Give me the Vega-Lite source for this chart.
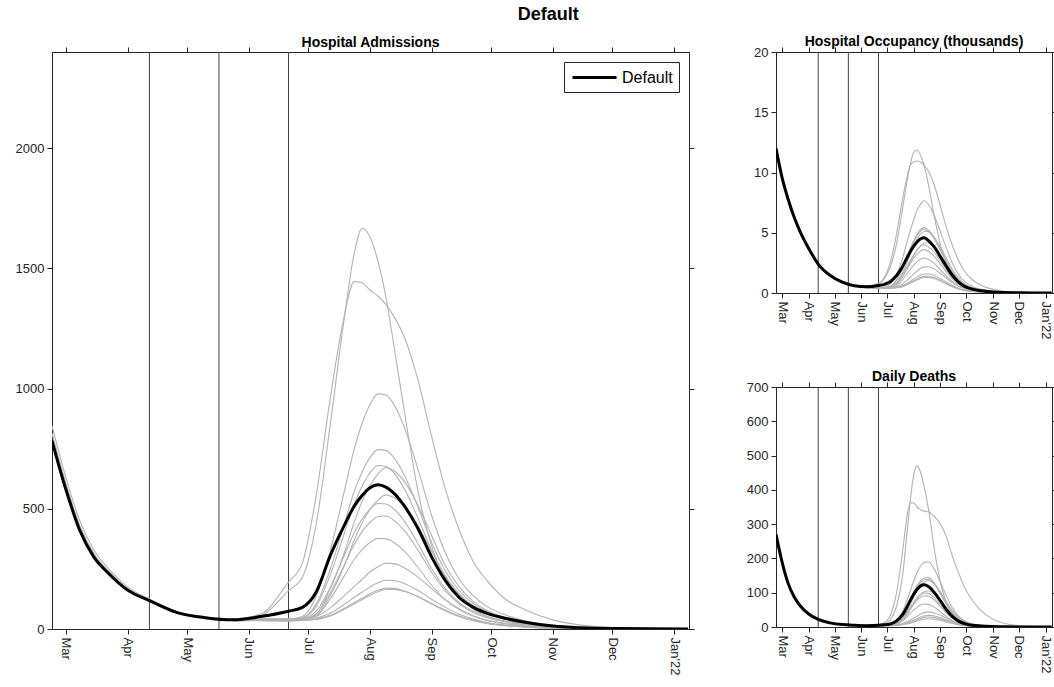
{
  "$schema": "https://vega.github.io/schema/vega-lite/v6.json",
  "title": {"text": "Default", "fontSize": 18, "fontWeight": "bold", "font": "Liberation Sans", "color": "#000000", "anchor": "middle", "offset": 11, "dx": 12},
  "padding": {"left": 14, "top": 5, "right": 0, "bottom": 0},
  "resolve": {"scale": {"color": "independent"}, "legend": {"color": "independent"}},
  "datasets": {
    "steps": [{"date": "2021-04-12"}, {"date": "2021-05-17"}, {"date": "2021-06-21"}],
    "adm": [
      {"date": "2021-02-22", "def": 783, "a": 845, "c": 815},
      {"date": "2021-03-01", "def": 580, "a": 630, "c": 605},
      {"date": "2021-03-08", "def": 410, "a": 450, "c": 430},
      {"date": "2021-03-15", "def": 300, "a": 330, "c": 315},
      {"date": "2021-03-22", "def": 235, "a": 255, "c": 245},
      {"date": "2021-04-01", "def": 162, "a": 175, "c": 168},
      {"date": "2021-04-12", "def": 118, "a": 125, "c": 121},
      {"date": "2021-04-26", "def": 68, "a": 72, "c": 70},
      {"date": "2021-05-10", "def": 47, "a": 50, "c": 48},
      {"date": "2021-05-24", "def": 38, "a": 40, "b": 40, "c": 39, "d": 38, "e": 38, "f": 37, "g": 37, "h": 37, "i": 36, "j": 36, "k": 36, "l": 35, "m": 35, "n": 34},
      {"date": "2021-06-07", "def": 52, "a": 55, "b": 62, "c": 42, "d": 41, "e": 40, "f": 39, "g": 39, "h": 39, "i": 38, "j": 38, "k": 37, "l": 36, "m": 36, "n": 35},
      {"date": "2021-06-21", "def": 74, "a": 160, "b": 195, "c": 42, "d": 41, "e": 40, "f": 38, "g": 38, "h": 38, "i": 37, "j": 36, "k": 36, "l": 35, "m": 34, "n": 33},
      {"date": "2021-06-28", "def": 90, "a": 215, "b": 275, "c": 52, "d": 47, "e": 46, "f": 42, "g": 41, "h": 43, "i": 41, "j": 40, "k": 40, "l": 38, "m": 37, "n": 36},
      {"date": "2021-07-05", "def": 155, "a": 440, "b": 560, "c": 138, "d": 105, "e": 96, "f": 62, "g": 56, "h": 74, "i": 64, "j": 55, "k": 52, "l": 46, "m": 42, "n": 40},
      {"date": "2021-07-12", "def": 305, "a": 850, "b": 960, "c": 324, "d": 248, "e": 225, "f": 168, "g": 140, "h": 173, "i": 150, "j": 125, "k": 88, "l": 66, "m": 57, "n": 54},
      {"date": "2021-07-19", "def": 430, "a": 1290, "b": 1300, "c": 570, "d": 435, "e": 396, "f": 315, "g": 262, "h": 305, "i": 265, "j": 220, "k": 138, "l": 102, "m": 86, "n": 82},
      {"date": "2021-07-24", "def": 510, "a": 1560, "b": 1445, "c": 747, "d": 570, "e": 519, "f": 443, "g": 368, "h": 399, "i": 350, "j": 288, "k": 176, "l": 131, "m": 109, "n": 104},
      {"date": "2021-07-28", "def": 555, "a": 1667, "b": 1440, "c": 855, "d": 653, "e": 594, "f": 530, "g": 441, "h": 457, "i": 405, "j": 330, "k": 206, "l": 153, "m": 128, "n": 122},
      {"date": "2021-08-01", "def": 588, "a": 1630, "b": 1410, "c": 934, "d": 713, "e": 649, "f": 597, "g": 497, "h": 499, "i": 444, "j": 360, "k": 237, "l": 175, "m": 147, "n": 140},
      {"date": "2021-08-05", "def": 600, "a": 1530, "b": 1385, "c": 978, "d": 746, "e": 680, "f": 644, "g": 536, "h": 522, "i": 467, "j": 377, "k": 259, "l": 192, "m": 161, "n": 155},
      {"date": "2021-08-09", "def": 590, "a": 1380, "b": 1350, "c": 973, "d": 743, "e": 676, "f": 671, "g": 558, "h": 520, "i": 470, "j": 375, "k": 274, "l": 203, "m": 170, "n": 164},
      {"date": "2021-08-13", "def": 565, "a": 1180, "b": 1300, "c": 934, "d": 713, "e": 649, "f": 658, "g": 547, "h": 499, "i": 452, "j": 360, "k": 272, "l": 202, "m": 169, "n": 165},
      {"date": "2021-08-18", "def": 515, "a": 920, "b": 1220, "c": 845, "d": 645, "e": 587, "f": 617, "g": 513, "h": 452, "i": 412, "j": 326, "k": 256, "l": 190, "m": 159, "n": 157},
      {"date": "2021-08-25", "def": 420, "a": 580, "b": 1040, "c": 668, "d": 510, "e": 464, "f": 517, "g": 430, "h": 357, "i": 330, "j": 258, "k": 217, "l": 161, "m": 135, "n": 135},
      {"date": "2021-09-01", "def": 300, "a": 345, "b": 800, "c": 472, "d": 360, "e": 328, "f": 389, "g": 324, "h": 252, "i": 236, "j": 182, "k": 168, "l": 124, "m": 104, "n": 106},
      {"date": "2021-09-08", "def": 200, "a": 210, "b": 580, "c": 315, "d": 240, "e": 219, "f": 262, "g": 218, "h": 168, "i": 158, "j": 121, "k": 121, "l": 90, "m": 75, "n": 78},
      {"date": "2021-09-15", "def": 130, "a": 130, "b": 410, "c": 206, "d": 158, "e": 143, "f": 174, "g": 145, "h": 110, "i": 104, "j": 80, "k": 83, "l": 61, "m": 51, "n": 54},
      {"date": "2021-09-22", "def": 90, "a": 82, "b": 280, "c": 138, "d": 105, "e": 96, "f": 114, "g": 95, "h": 74, "i": 69, "j": 53, "k": 55, "l": 41, "m": 34, "n": 37},
      {"date": "2021-09-29", "def": 65, "a": 53, "b": 200, "c": 93, "d": 71, "e": 65, "f": 77, "g": 64, "h": 50, "i": 47, "j": 36, "k": 36, "l": 27, "m": 22, "n": 25},
      {"date": "2021-10-08", "def": 45, "a": 33, "b": 125, "c": 59, "d": 45, "e": 41, "f": 48, "g": 40, "h": 32, "i": 30, "j": 23, "k": 22, "l": 16, "m": 14, "n": 15},
      {"date": "2021-10-18", "def": 28, "a": 19, "b": 80, "c": 34, "d": 26, "e": 24, "f": 28, "g": 23, "h": 18, "i": 17, "j": 13, "k": 13, "l": 10, "m": 8, "n": 9},
      {"date": "2021-11-01", "def": 12, "a": 8, "b": 38, "c": 15, "d": 11, "e": 10, "f": 13, "g": 11, "h": 8, "i": 8, "j": 6, "k": 6, "l": 4, "m": 3, "n": 4},
      {"date": "2021-11-15", "def": 5, "a": 3, "b": 16, "c": 6, "d": 5, "e": 4, "f": 6, "g": 5, "h": 3, "i": 3, "j": 2, "k": 2, "l": 2, "m": 1, "n": 1.5},
      {"date": "2021-12-01", "def": 2, "a": 1, "b": 6, "c": 2, "d": 2, "e": 1.5, "f": 2, "g": 2, "h": 1, "i": 1, "j": 1, "k": 1, "l": 1, "m": 0.5, "n": 0.5},
      {"date": "2021-12-20", "def": 1, "a": 0.5, "b": 2, "c": 1, "d": 0.8, "e": 0.7, "f": 1, "g": 0.8, "h": 0.5, "i": 0.5, "j": 0.5, "k": 0.5, "l": 0.4, "m": 0.3, "n": 0.3},
      {"date": "2022-01-08", "def": 0.5, "a": 0.3, "b": 1, "c": 0.4, "d": 0.3, "e": 0.3, "f": 0.4, "g": 0.3, "h": 0.3, "i": 0.3, "j": 0.2, "k": 0.2, "l": 0.2, "m": 0.1, "n": 0.1}
    ],
    "occ": [
      {"date": "2021-02-22", "def": 12.0},
      {"date": "2021-03-01", "def": 9.6},
      {"date": "2021-03-08", "def": 7.8},
      {"date": "2021-03-15", "def": 6.3},
      {"date": "2021-03-22", "def": 5.1},
      {"date": "2021-04-01", "def": 3.7},
      {"date": "2021-04-12", "def": 2.4},
      {"date": "2021-04-26", "def": 1.45},
      {"date": "2021-05-10", "def": 0.9},
      {"date": "2021-05-24", "def": 0.6, "a": 0.62, "b": 0.62, "c": 0.6, "d": 0.6, "e": 0.6, "f": 0.59, "g": 0.59, "h": 0.59, "i": 0.58, "j": 0.58, "k": 0.58, "l": 0.57, "m": 0.57, "n": 0.56},
      {"date": "2021-06-07", "def": 0.52, "a": 0.55, "b": 0.58, "c": 0.48, "d": 0.48, "e": 0.47, "f": 0.47, "g": 0.47, "h": 0.46, "i": 0.46, "j": 0.46, "k": 0.45, "l": 0.45, "m": 0.45, "n": 0.45},
      {"date": "2021-06-21", "def": 0.62, "a": 0.75, "b": 0.8, "c": 0.45, "d": 0.45, "e": 0.44, "f": 0.43, "g": 0.43, "h": 0.43, "i": 0.42, "j": 0.42, "k": 0.41, "l": 0.4, "m": 0.39, "n": 0.38},
      {"date": "2021-06-28", "def": 0.72, "a": 1.2, "b": 1.3, "c": 0.48, "d": 0.47, "e": 0.46, "f": 0.45, "g": 0.44, "h": 0.45, "i": 0.44, "j": 0.43, "k": 0.42, "l": 0.41, "m": 0.4, "n": 0.39},
      {"date": "2021-07-05", "def": 0.95, "a": 2.2, "b": 2.6, "c": 0.77, "d": 0.55, "e": 0.54, "f": 0.5, "g": 0.48, "h": 0.5, "i": 0.48, "j": 0.46, "k": 0.44, "l": 0.42, "m": 0.41, "n": 0.4},
      {"date": "2021-07-12", "def": 1.45, "a": 4.1, "b": 4.9, "c": 1.53, "d": 1.09, "e": 1.06, "f": 0.85, "g": 0.7, "h": 0.8, "i": 0.72, "j": 0.6, "k": 0.52, "l": 0.47, "m": 0.45, "n": 0.43},
      {"date": "2021-07-19", "def": 2.2, "a": 7.0, "b": 7.8, "c": 2.9, "d": 2.07, "e": 2.01, "f": 1.7, "g": 1.35, "h": 1.52, "i": 1.37, "j": 1.1, "k": 0.75, "l": 0.6, "m": 0.56, "n": 0.53},
      {"date": "2021-07-24", "def": 2.9, "a": 9.2, "b": 9.6, "c": 4.2, "d": 3.0, "e": 2.92, "f": 2.5, "g": 2.0, "h": 2.2, "i": 1.98, "j": 1.6, "k": 1.05, "l": 0.8, "m": 0.72, "n": 0.67},
      {"date": "2021-07-28", "def": 3.45, "a": 10.7, "b": 10.6, "c": 5.2, "d": 3.7, "e": 3.6, "f": 3.2, "g": 2.55, "h": 2.72, "i": 2.45, "j": 1.97, "k": 1.3, "l": 0.97, "m": 0.86, "n": 0.8},
      {"date": "2021-08-01", "def": 3.9, "a": 11.7, "b": 10.9, "c": 6.1, "d": 4.36, "e": 4.24, "f": 3.9, "g": 3.1, "h": 3.2, "i": 2.88, "j": 2.32, "k": 1.6, "l": 1.16, "m": 1.02, "n": 0.95},
      {"date": "2021-08-05", "def": 4.25, "a": 11.85, "b": 10.95, "c": 6.9, "d": 4.9, "e": 4.77, "f": 4.5, "g": 3.6, "h": 3.6, "i": 3.24, "j": 2.61, "k": 1.85, "l": 1.34, "m": 1.17, "n": 1.09},
      {"date": "2021-08-09", "def": 4.5, "a": 11.4, "b": 10.85, "c": 7.4, "d": 5.29, "e": 5.14, "f": 4.9, "g": 3.95, "h": 3.88, "i": 3.49, "j": 2.81, "k": 2.05, "l": 1.49, "m": 1.3, "n": 1.21},
      {"date": "2021-08-13", "def": 4.58, "a": 10.6, "b": 10.6, "c": 7.65, "d": 5.45, "e": 5.3, "f": 5.1, "g": 4.15, "h": 4.0, "i": 3.6, "j": 2.9, "k": 2.17, "l": 1.58, "m": 1.38, "n": 1.28},
      {"date": "2021-08-18", "def": 4.35, "a": 9.0, "b": 10.1, "c": 7.35, "d": 5.23, "e": 5.09, "f": 5.1, "g": 4.15, "h": 3.84, "i": 3.46, "j": 2.78, "k": 2.18, "l": 1.59, "m": 1.39, "n": 1.3},
      {"date": "2021-08-25", "def": 3.8, "a": 6.3, "b": 8.9, "c": 6.4, "d": 4.58, "e": 4.45, "f": 4.6, "g": 3.75, "h": 3.36, "i": 3.02, "j": 2.44, "k": 1.98, "l": 1.45, "m": 1.27, "n": 1.2},
      {"date": "2021-09-01", "def": 3.0, "a": 4.0, "b": 7.2, "c": 5.05, "d": 3.6, "e": 3.5, "f": 3.8, "g": 3.1, "h": 2.64, "i": 2.38, "j": 1.91, "k": 1.62, "l": 1.19, "m": 1.04, "n": 0.99},
      {"date": "2021-09-08", "def": 2.2, "a": 2.4, "b": 5.4, "c": 3.7, "d": 2.62, "e": 2.54, "f": 2.85, "g": 2.3, "h": 1.92, "i": 1.73, "j": 1.39, "k": 1.22, "l": 0.9, "m": 0.78, "n": 0.75},
      {"date": "2021-09-15", "def": 1.45, "a": 1.45, "b": 3.9, "c": 2.45, "d": 1.74, "e": 1.7, "f": 1.95, "g": 1.58, "h": 1.28, "i": 1.15, "j": 0.93, "k": 0.85, "l": 0.62, "m": 0.54, "n": 0.52},
      {"date": "2021-09-22", "def": 0.9, "a": 0.9, "b": 2.7, "c": 1.53, "d": 1.09, "e": 1.06, "f": 1.25, "g": 1.0, "h": 0.8, "i": 0.72, "j": 0.58, "k": 0.55, "l": 0.4, "m": 0.35, "n": 0.34},
      {"date": "2021-09-29", "def": 0.55, "a": 0.56, "b": 1.8, "c": 0.96, "d": 0.68, "e": 0.66, "f": 0.78, "g": 0.63, "h": 0.5, "i": 0.45, "j": 0.36, "k": 0.35, "l": 0.25, "m": 0.22, "n": 0.21},
      {"date": "2021-10-08", "def": 0.32, "a": 0.33, "b": 1.1, "c": 0.54, "d": 0.38, "e": 0.37, "f": 0.45, "g": 0.36, "h": 0.28, "i": 0.25, "j": 0.2, "k": 0.2, "l": 0.14, "m": 0.12, "n": 0.12},
      {"date": "2021-10-18", "def": 0.18, "a": 0.2, "b": 0.65, "c": 0.31, "d": 0.22, "e": 0.21, "f": 0.26, "g": 0.21, "h": 0.16, "i": 0.14, "j": 0.12, "k": 0.11, "l": 0.08, "m": 0.07, "n": 0.07},
      {"date": "2021-11-01", "def": 0.08, "a": 0.09, "b": 0.3, "c": 0.13, "d": 0.09, "e": 0.09, "f": 0.11, "g": 0.09, "h": 0.07, "i": 0.06, "j": 0.05, "k": 0.05, "l": 0.035, "m": 0.03, "n": 0.03},
      {"date": "2021-11-15", "def": 0.04, "a": 0.04, "b": 0.13, "c": 0.06, "d": 0.04, "e": 0.04, "f": 0.05, "g": 0.04, "h": 0.03, "i": 0.03, "j": 0.02, "k": 0.02, "l": 0.015, "m": 0.013, "n": 0.013},
      {"date": "2021-12-01", "def": 0.02, "a": 0.02, "b": 0.05, "c": 0.02, "d": 0.02, "e": 0.02, "f": 0.02, "g": 0.02, "h": 0.01, "i": 0.01, "j": 0.01, "k": 0.01, "l": 0.01, "m": 0.01, "n": 0.01},
      {"date": "2021-12-20", "def": 0.01, "a": 0.01, "b": 0.02, "c": 0.01, "d": 0.01, "e": 0.01, "f": 0.01, "g": 0.01, "h": 0.01, "i": 0.01, "j": 0.01, "k": 0.01, "l": 0.01, "m": 0.01, "n": 0.01},
      {"date": "2022-01-08", "def": 0.01, "a": 0.01, "b": 0.01, "c": 0.01, "d": 0.01, "e": 0.01, "f": 0.01, "g": 0.01, "h": 0.01, "i": 0.01, "j": 0.01, "k": 0.01, "l": 0.01, "m": 0.01, "n": 0.01}
    ],
    "dth": [
      {"date": "2021-02-22", "def": 270},
      {"date": "2021-03-01", "def": 190},
      {"date": "2021-03-08", "def": 128},
      {"date": "2021-03-15", "def": 88},
      {"date": "2021-03-22", "def": 62},
      {"date": "2021-04-01", "def": 38},
      {"date": "2021-04-12", "def": 22},
      {"date": "2021-04-26", "def": 12},
      {"date": "2021-05-10", "def": 7},
      {"date": "2021-05-24", "def": 5, "a": 5, "b": 5, "c": 5, "d": 5, "e": 5, "f": 5, "g": 5, "h": 5, "i": 5, "j": 5, "k": 5, "l": 5, "m": 5, "n": 5},
      {"date": "2021-06-07", "def": 4, "a": 4.5, "b": 5, "c": 4, "d": 4, "e": 4, "f": 4, "g": 4, "h": 4, "i": 4, "j": 4, "k": 4, "l": 4, "m": 4, "n": 4},
      {"date": "2021-06-21", "def": 5, "a": 6, "b": 7, "c": 4, "d": 4, "e": 4, "f": 4, "g": 4, "h": 4, "i": 4, "j": 4, "k": 4, "l": 4, "m": 3.8, "n": 3.7},
      {"date": "2021-06-28", "def": 6.5, "a": 10, "b": 13, "c": 5, "d": 4.5, "e": 4.4, "f": 4.3, "g": 4.2, "h": 4.3, "i": 4.2, "j": 4.1, "k": 4, "l": 4, "m": 3.9, "n": 3.8},
      {"date": "2021-07-05", "def": 9, "a": 22, "b": 35, "c": 8, "d": 6.5, "e": 6.3, "f": 5.5, "g": 5, "h": 6, "i": 5.6, "j": 5, "k": 4.5, "l": 4.3, "m": 4.1, "n": 4},
      {"date": "2021-07-12", "def": 18, "a": 60, "b": 100, "c": 20, "d": 15, "e": 14.5, "f": 11, "g": 9, "h": 12, "i": 11, "j": 8.5, "k": 6, "l": 5.3, "m": 5, "n": 4.7},
      {"date": "2021-07-19", "def": 36, "a": 150, "b": 220, "c": 45, "d": 34, "e": 33, "f": 26, "g": 20, "h": 26, "i": 24, "j": 18, "k": 10, "l": 8, "m": 7.2, "n": 6.5},
      {"date": "2021-07-24", "def": 58, "a": 270, "b": 320, "c": 78, "d": 59, "e": 57, "f": 47, "g": 36, "h": 43, "i": 40, "j": 29, "k": 15, "l": 11.5, "m": 10, "n": 8.6},
      {"date": "2021-07-28", "def": 78, "a": 370, "b": 362, "c": 105, "d": 80, "e": 77, "f": 66, "g": 51, "h": 58, "i": 54, "j": 40, "k": 20, "l": 15, "m": 13, "n": 11},
      {"date": "2021-08-01", "def": 96, "a": 445, "b": 362, "c": 135, "d": 103, "e": 99, "f": 88, "g": 68, "h": 73, "i": 67, "j": 50, "k": 26, "l": 19.5, "m": 17, "n": 14},
      {"date": "2021-08-05", "def": 110, "a": 470, "b": 350, "c": 160, "d": 122, "e": 118, "f": 107, "g": 83, "h": 86, "i": 79, "j": 58, "k": 32, "l": 24, "m": 21, "n": 17.5},
      {"date": "2021-08-09", "def": 120, "a": 450, "b": 342, "c": 178, "d": 135, "e": 130, "f": 122, "g": 95, "h": 95, "i": 87, "j": 64, "k": 38, "l": 29, "m": 25, "n": 20.5},
      {"date": "2021-08-13", "def": 123, "a": 410, "b": 338, "c": 188, "d": 143, "e": 138, "f": 131, "g": 102, "h": 99, "i": 91, "j": 67, "k": 42, "l": 32, "m": 27.5, "n": 22.7},
      {"date": "2021-08-18", "def": 118, "a": 345, "b": 336, "c": 190, "d": 144, "e": 139, "f": 135, "g": 105, "h": 98, "i": 90, "j": 66, "k": 44, "l": 34, "m": 29, "n": 24},
      {"date": "2021-08-25", "def": 100, "a": 225, "b": 322, "c": 168, "d": 128, "e": 124, "f": 126, "g": 98, "h": 85, "i": 78, "j": 58, "k": 41, "l": 32, "m": 27.5, "n": 23},
      {"date": "2021-09-01", "def": 76, "a": 130, "b": 300, "c": 130, "d": 99, "e": 96, "f": 102, "g": 80, "h": 65, "i": 60, "j": 44, "k": 34, "l": 27, "m": 23, "n": 19.5},
      {"date": "2021-09-08", "def": 50, "a": 70, "b": 262, "c": 90, "d": 68, "e": 66, "f": 73, "g": 57, "h": 44, "i": 40, "j": 30, "k": 25, "l": 20, "m": 17, "n": 14.5},
      {"date": "2021-09-15", "def": 30, "a": 38, "b": 205, "c": 55, "d": 42, "e": 40, "f": 47, "g": 37, "h": 27, "i": 25, "j": 18, "k": 17, "l": 13.5, "m": 11.5, "n": 10},
      {"date": "2021-09-22", "def": 17, "a": 20, "b": 158, "c": 32, "d": 24, "e": 23, "f": 28, "g": 22, "h": 15, "i": 14, "j": 10, "k": 10.5, "l": 8.5, "m": 7.2, "n": 6.3},
      {"date": "2021-09-29", "def": 10, "a": 11, "b": 115, "c": 18, "d": 14, "e": 13.5, "f": 16, "g": 12.5, "h": 8.5, "i": 8, "j": 6, "k": 6.3, "l": 5, "m": 4.3, "n": 3.8},
      {"date": "2021-10-08", "def": 5, "a": 6, "b": 78, "c": 9, "d": 7, "e": 6.8, "f": 8, "g": 6.3, "h": 4.3, "i": 4, "j": 3, "k": 3.3, "l": 2.6, "m": 2.2, "n": 2},
      {"date": "2021-10-18", "def": 3, "a": 3, "b": 48, "c": 5, "d": 4, "e": 3.9, "f": 4.5, "g": 3.5, "h": 2.4, "i": 2.2, "j": 1.7, "k": 1.8, "l": 1.4, "m": 1.2, "n": 1.1},
      {"date": "2021-11-01", "def": 1.5, "a": 1.2, "b": 23, "c": 2, "d": 1.5, "e": 1.5, "f": 1.8, "g": 1.4, "h": 1, "i": 1, "j": 0.8, "k": 0.8, "l": 0.6, "m": 0.5, "n": 0.5},
      {"date": "2021-11-15", "def": 0.7, "a": 0.5, "b": 10, "c": 1, "d": 0.7, "e": 0.7, "f": 0.8, "g": 0.6, "h": 0.5, "i": 0.5, "j": 0.4, "k": 0.4, "l": 0.3, "m": 0.25, "n": 0.2},
      {"date": "2021-12-01", "def": 0.3, "a": 0.2, "b": 4, "c": 0.4, "d": 0.3, "e": 0.3, "f": 0.4, "g": 0.3, "h": 0.2, "i": 0.2, "j": 0.2, "k": 0.2, "l": 0.1, "m": 0.1, "n": 0.1},
      {"date": "2021-12-20", "def": 0.1, "a": 0.1, "b": 1.5, "c": 0.1, "d": 0.1, "e": 0.1, "f": 0.1, "g": 0.1, "h": 0.1, "i": 0.1, "j": 0.1, "k": 0.1, "l": 0.1, "m": 0.1, "n": 0.1},
      {"date": "2022-01-08", "def": 0.1, "a": 0.1, "b": 0.5, "c": 0.1, "d": 0.1, "e": 0.1, "f": 0.1, "g": 0.1, "h": 0.1, "i": 0.1, "j": 0.1, "k": 0.1, "l": 0.1, "m": 0.1, "n": 0.1}
    ]
  },
  "spacing": 50,
  "hconcat": [
    {
      "width": 637,
      "height": 577,
      "title": {"text": "Hospital Admissions", "fontSize": 14, "fontWeight": "bold", "offset": -3},
      "resolve": {"axis": {"x": "independent", "y": "independent"}},
      "layer": [
        {
          "data": {"name": "steps"},
          "mark": {"type": "rule", "color": "#404040", "strokeWidth": 1},
          "encoding": {
            "x": {"field": "date", "type": "temporal", "scale": {"domain": [{"year": 2021, "month": 2, "date": 22}, {"year": 2022, "month": 1, "date": 8, "hours": 12}]}, "axis": null}
          }
        },
        {
          "data": {"name": "adm"},
          "transform": [{"fold": ["a", "b", "c", "d", "e", "f", "g", "h", "i", "j", "k", "l", "m", "n"], "as": ["s", "v"]}],
          "mark": {"type": "line", "interpolate": "monotone", "color": "#b3b3b3", "strokeWidth": 1.1, "clip": true},
          "encoding": {
            "x": {"field": "date", "type": "temporal", "scale": {"domain": [{"year": 2021, "month": 2, "date": 22}, {"year": 2022, "month": 1, "date": 8, "hours": 12}]},
              "axis": {"orient": "bottom", "title": null, "values": [{"year": 2021, "month": 3, "date": 1}, {"year": 2021, "month": 4, "date": 1}, {"year": 2021, "month": 5, "date": 1}, {"year": 2021, "month": 6, "date": 1}, {"year": 2021, "month": 7, "date": 1}, {"year": 2021, "month": 8, "date": 1}, {"year": 2021, "month": 9, "date": 1}, {"year": 2021, "month": 10, "date": 1}, {"year": 2021, "month": 11, "date": 1}, {"year": 2021, "month": 12, "date": 1}, {"year": 2022, "month": 1, "date": 1}],
                "labelExpr": "month(datum.value) == 0 ? \"Jan'22\" : timeFormat(datum.value, '%b')", "labelAngle": 90, "labelAlign": "left", "labelBaseline": "middle"}},
            "y": {"field": "v", "type": "quantitative", "scale": {"domain": [0, 2400]}, "axis": {"title": null, "format": "d", "values": [0, 500, 1000, 1500, 2000]}},
            "detail": {"field": "s"}
          }
        },
        {
          "data": {"name": "adm"},
          "mark": {"type": "line", "interpolate": "monotone", "strokeWidth": 3, "clip": true},
          "encoding": {
            "x": {"field": "date", "type": "temporal", "scale": {"domain": [{"year": 2021, "month": 2, "date": 22}, {"year": 2022, "month": 1, "date": 8, "hours": 12}]},
              "axis": {"orient": "top", "title": null, "labels": false, "values": [{"year": 2021, "month": 3, "date": 1}, {"year": 2021, "month": 4, "date": 1}, {"year": 2021, "month": 5, "date": 1}, {"year": 2021, "month": 6, "date": 1}, {"year": 2021, "month": 7, "date": 1}, {"year": 2021, "month": 8, "date": 1}, {"year": 2021, "month": 9, "date": 1}, {"year": 2021, "month": 10, "date": 1}, {"year": 2021, "month": 11, "date": 1}, {"year": 2021, "month": 12, "date": 1}, {"year": 2022, "month": 1, "date": 1}]}},
            "y": {"field": "def", "type": "quantitative", "scale": {"domain": [0, 2400]}, "axis": {"orient": "right", "title": null, "labels": false, "values": [0, 500, 1000, 1500, 2000]}},
            "color": {"datum": "Default", "type": "nominal", "scale": {"domain": ["Default"], "range": ["#000000"]},
              "legend": {"title": null, "orient": "top-right", "offset": 10, "strokeColor": "#262626", "fillColor": "#ffffff", "padding": 6, "symbolType": "M-2.75,0H2.75", "symbolStrokeWidth": 3, "symbolSize": 256, "symbolOffset": 15, "labelOffset": 18, "labelFontSize": 16, "labelColor": "#000000"}}
          }
        }
      ]
    },
    {
      "spacing": 29,
      "vconcat": [
        {
          "width": 276,
          "height": 241,
          "title": {"text": "Hospital Occupancy (thousands)", "fontSize": 14, "fontWeight": "bold", "offset": -3},
          "resolve": {"axis": {"x": "independent", "y": "independent"}},
          "layer": [
            {
              "data": {"name": "steps"},
              "mark": {"type": "rule", "color": "#404040", "strokeWidth": 1},
              "encoding": {
                "x": {"field": "date", "type": "temporal", "scale": {"domain": [{"year": 2021, "month": 2, "date": 22}, {"year": 2022, "month": 1, "date": 8, "hours": 12}]}, "axis": null}
              }
            },
            {
              "data": {"name": "occ"},
              "transform": [{"fold": ["a", "b", "c", "d", "e", "f", "g", "h", "i", "j", "k", "l", "m", "n"], "as": ["s", "v"]}],
              "mark": {"type": "line", "interpolate": "monotone", "color": "#b3b3b3", "strokeWidth": 1.1, "clip": true},
              "encoding": {
                "x": {"field": "date", "type": "temporal", "scale": {"domain": [{"year": 2021, "month": 2, "date": 22}, {"year": 2022, "month": 1, "date": 8, "hours": 12}]},
                  "axis": {"orient": "bottom", "title": null, "values": [{"year": 2021, "month": 3, "date": 1}, {"year": 2021, "month": 4, "date": 1}, {"year": 2021, "month": 5, "date": 1}, {"year": 2021, "month": 6, "date": 1}, {"year": 2021, "month": 7, "date": 1}, {"year": 2021, "month": 8, "date": 1}, {"year": 2021, "month": 9, "date": 1}, {"year": 2021, "month": 10, "date": 1}, {"year": 2021, "month": 11, "date": 1}, {"year": 2021, "month": 12, "date": 1}, {"year": 2022, "month": 1, "date": 1}],
                    "labelExpr": "month(datum.value) == 0 ? \"Jan'22\" : timeFormat(datum.value, '%b')", "labelAngle": 90, "labelAlign": "left", "labelBaseline": "middle"}},
                "y": {"field": "v", "type": "quantitative", "scale": {"domain": [0, 20]}, "axis": {"title": null, "format": "d", "values": [0, 5, 10, 15, 20]}},
                "detail": {"field": "s"}
              }
            },
            {
              "data": {"name": "occ"},
              "mark": {"type": "line", "interpolate": "monotone", "strokeWidth": 3, "color": "#000000", "clip": true},
              "encoding": {
                "x": {"field": "date", "type": "temporal", "scale": {"domain": [{"year": 2021, "month": 2, "date": 22}, {"year": 2022, "month": 1, "date": 8, "hours": 12}]},
                  "axis": {"orient": "top", "title": null, "labels": false, "values": [{"year": 2021, "month": 3, "date": 1}, {"year": 2021, "month": 4, "date": 1}, {"year": 2021, "month": 5, "date": 1}, {"year": 2021, "month": 6, "date": 1}, {"year": 2021, "month": 7, "date": 1}, {"year": 2021, "month": 8, "date": 1}, {"year": 2021, "month": 9, "date": 1}, {"year": 2021, "month": 10, "date": 1}, {"year": 2021, "month": 11, "date": 1}, {"year": 2021, "month": 12, "date": 1}, {"year": 2022, "month": 1, "date": 1}]}},
                "y": {"field": "def", "type": "quantitative", "scale": {"domain": [0, 20]}, "axis": {"orient": "right", "title": null, "labels": false, "values": [0, 5, 10, 15, 20]}}
              }
            }
          ]
        },
        {
          "width": 276,
          "height": 240,
          "title": {"text": "Daily Deaths", "fontSize": 14, "fontWeight": "bold", "offset": -3},
          "resolve": {"axis": {"x": "independent", "y": "independent"}},
          "layer": [
            {
              "data": {"name": "steps"},
              "mark": {"type": "rule", "color": "#404040", "strokeWidth": 1},
              "encoding": {
                "x": {"field": "date", "type": "temporal", "scale": {"domain": [{"year": 2021, "month": 2, "date": 22}, {"year": 2022, "month": 1, "date": 8, "hours": 12}]}, "axis": null}
              }
            },
            {
              "data": {"name": "dth"},
              "transform": [{"fold": ["a", "b", "c", "d", "e", "f", "g", "h", "i", "j", "k", "l", "m", "n"], "as": ["s", "v"]}],
              "mark": {"type": "line", "interpolate": "monotone", "color": "#b3b3b3", "strokeWidth": 1.1, "clip": true},
              "encoding": {
                "x": {"field": "date", "type": "temporal", "scale": {"domain": [{"year": 2021, "month": 2, "date": 22}, {"year": 2022, "month": 1, "date": 8, "hours": 12}]},
                  "axis": {"orient": "bottom", "title": null, "values": [{"year": 2021, "month": 3, "date": 1}, {"year": 2021, "month": 4, "date": 1}, {"year": 2021, "month": 5, "date": 1}, {"year": 2021, "month": 6, "date": 1}, {"year": 2021, "month": 7, "date": 1}, {"year": 2021, "month": 8, "date": 1}, {"year": 2021, "month": 9, "date": 1}, {"year": 2021, "month": 10, "date": 1}, {"year": 2021, "month": 11, "date": 1}, {"year": 2021, "month": 12, "date": 1}, {"year": 2022, "month": 1, "date": 1}],
                    "labelExpr": "month(datum.value) == 0 ? \"Jan'22\" : timeFormat(datum.value, '%b')", "labelAngle": 90, "labelAlign": "left", "labelBaseline": "middle"}},
                "y": {"field": "v", "type": "quantitative", "scale": {"domain": [0, 700]}, "axis": {"title": null, "format": "d", "values": [0, 100, 200, 300, 400, 500, 600, 700]}},
                "detail": {"field": "s"}
              }
            },
            {
              "data": {"name": "dth"},
              "mark": {"type": "line", "interpolate": "monotone", "strokeWidth": 3, "color": "#000000", "clip": true},
              "encoding": {
                "x": {"field": "date", "type": "temporal", "scale": {"domain": [{"year": 2021, "month": 2, "date": 22}, {"year": 2022, "month": 1, "date": 8, "hours": 12}]},
                  "axis": {"orient": "top", "title": null, "labels": false, "values": [{"year": 2021, "month": 3, "date": 1}, {"year": 2021, "month": 4, "date": 1}, {"year": 2021, "month": 5, "date": 1}, {"year": 2021, "month": 6, "date": 1}, {"year": 2021, "month": 7, "date": 1}, {"year": 2021, "month": 8, "date": 1}, {"year": 2021, "month": 9, "date": 1}, {"year": 2021, "month": 10, "date": 1}, {"year": 2021, "month": 11, "date": 1}, {"year": 2021, "month": 12, "date": 1}, {"year": 2022, "month": 1, "date": 1}]}},
                "y": {"field": "def", "type": "quantitative", "scale": {"domain": [0, 700]}, "axis": {"orient": "right", "title": null, "labels": false, "values": [0, 100, 200, 300, 400, 500, 600, 700]}}
              }
            }
          ]
        }
      ]
    }
  ],
  "config": {
    "font": "Liberation Sans",
    "view": {"stroke": "#262626", "strokeWidth": 1},
    "axis": {"grid": false, "domainColor": "#262626", "tickColor": "#262626", "labelColor": "#262626", "labelFont": "Liberation Sans", "labelFontSize": 13, "tickSize": 5, "labelPadding": 3},
    "title": {"font": "Liberation Sans", "color": "#000000"},
    "legend": {"labelFont": "Liberation Sans"}
  }
}
